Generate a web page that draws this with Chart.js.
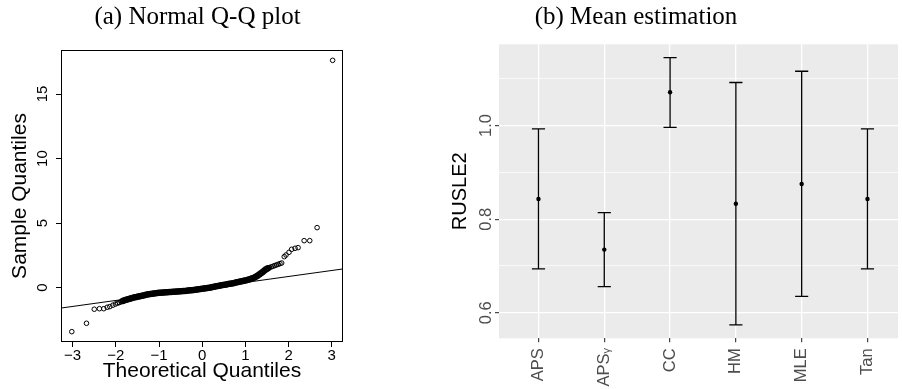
<!DOCTYPE html>
<html>
<head>
<meta charset="utf-8">
<script src="https://cdn.jsdelivr.net/npm/chart.js@4.4.1/dist/chart.umd.min.js"></script>
<style>
  html, body { margin: 0; padding: 0; background: #fff; }
  body { width: 902px; height: 389px; position: relative; overflow: hidden; }
  #qq { position: absolute; left: 0; top: 0; }
  #mean { position: absolute; left: 370px; top: 0; }
</style>
</head>
<body>
<canvas id="qq" width="395" height="389"></canvas>
<canvas id="mean" width="532" height="389"></canvas>
<script>
// (a) Q-Q plot (theoretical, sample)
const qqTheo = [
  -3.02, -2.68, -2.50, -2.38, -2.28, -2.20, -2.14, -2.07, -2.01,
  -1.96, -1.92, -1.88, -1.84, -1.80, -1.76, -1.72, -1.68, -1.64, -1.60,
  -1.56, -1.52, -1.48, -1.44, -1.40, -1.36, -1.32, -1.28, -1.24, -1.20,
  -1.16, -1.12, -1.08, -1.04, -1.00, -0.96, -0.92, -0.88, -0.84, -0.80,
  -0.76, -0.72, -0.68, -0.64, -0.60, -0.56, -0.52, -0.48, -0.44, -0.40,
  -0.36, -0.32, -0.28, -0.24, -0.20, -0.16, -0.12, -0.08, -0.04, 0.00,
  0.04, 0.08, 0.12, 0.16, 0.20, 0.24, 0.28, 0.32, 0.36, 0.40,
  0.44, 0.48, 0.52, 0.56, 0.60, 0.64, 0.68, 0.72, 0.76, 0.80,
  0.84, 0.88, 0.92, 0.96, 1.00, 1.04, 1.08, 1.12, 1.16, 1.20,
  1.24, 1.28, 1.32, 1.36, 1.40, 1.44, 1.48, 1.52, 1.56, 1.60,
  1.64, 1.68, 1.72, 1.76, 1.80, 1.84,
  1.90, 1.94, 2.01, 2.07, 2.15, 2.22, 2.36, 2.49, 2.66, 3.02
];
const qqSample = [
  -3.41, -2.76, -1.67, -1.63, -1.63, -1.52, -1.47, -1.36, -1.27,
  -1.20, -1.15, -1.10, -1.04, -0.98, -0.93, -0.89, -0.85, -0.82, -0.78,
  -0.75, -0.72, -0.69, -0.66, -0.63, -0.60, -0.57, -0.54, -0.52, -0.50,
  -0.48, -0.46, -0.44, -0.42, -0.40, -0.39, -0.38, -0.37, -0.36, -0.35,
  -0.34, -0.33, -0.32, -0.31, -0.30, -0.29, -0.28, -0.27, -0.26, -0.25,
  -0.24, -0.23, -0.21, -0.20, -0.18, -0.16, -0.14, -0.12, -0.10, -0.08,
  -0.06, -0.04, -0.02, 0.00, 0.02, 0.05, 0.07, 0.10, 0.13, 0.15,
  0.18, 0.20, 0.23, 0.25, 0.28, 0.30, 0.32, 0.35, 0.38, 0.41,
  0.44, 0.47, 0.50, 0.53, 0.56, 0.60, 0.64, 0.68, 0.72, 0.77,
  0.84, 0.92, 1.01, 1.11, 1.22, 1.32, 1.42, 1.50, 1.56, 1.61,
  1.66, 1.71, 1.76, 1.81, 1.86, 1.91,
  2.40, 2.53, 2.74, 2.97, 3.05, 3.10, 3.64, 3.64, 4.65, 17.61
];
// reference line ends (spans the whole plot)
const qqLineX = [-3.27, 3.26];
const qqLineY = [-1.58, 1.45];
const qqTicksX = [-3, -2, -1, 0, 1, 2, 3];
const qqTicksY = [0, 5, 10, 15];

// (b) mean estimation with intervals
const methods = ['APS', 'APSᵧ', 'CC', 'HM', 'MLE', 'Tan'];
const meanEst = [0.843, 0.735, 1.071, 0.833, 0.875, 0.843];
const lowerCI = [0.694, 0.656, 0.996, 0.574, 0.635, 0.694];
const upperCI = [0.993, 0.814, 1.145, 1.092, 1.116, 0.993];
const meanTicks = [0.6, 0.7, 0.8, 0.9, 1.0, 1.1];

Chart.defaults.font.family = "'Liberation Sans', Arial, sans-serif";
Chart.defaults.color = '#000';

const titleFont = { family: "'Liberation Serif', 'Times New Roman', serif", size: 25, weight: 'normal' };

// box round the Q-Q plot, like base R
const boxPlugin = {
  id: 'box',
  afterDraw(chart) {
    const { ctx, chartArea: a } = chart;
    ctx.save();
    ctx.strokeStyle = '#000';
    ctx.lineWidth = 1;
    ctx.strokeRect(a.left + 0.5, a.top + 0.5, a.right - a.left - 1, a.bottom - a.top - 1);
    ctx.restore();
  }
};

// where the sample is dense the open circles pile up into a solid band
const denseBand = c => (c.raw && c.raw.x > -1.86 && c.raw.x < 1.56) ? 1.9 : 1;

new Chart(document.getElementById('qq'), {
  type: 'scatter',
  data: {
    datasets: [
      {
        data: qqTheo.map((x, i) => ({ x: x, y: qqSample[i] })),
        pointRadius: 2.3,
        borderWidth: denseBand,
        borderColor: '#000',
        backgroundColor: 'rgba(0,0,0,0)'
      },
      {
        type: 'line',
        data: qqLineX.map((x, i) => ({ x: x, y: qqLineY[i] })),
        borderColor: '#000',
        borderWidth: 1,
        pointRadius: 0,
        fill: false
      }
    ]
  },
  options: {
    responsive: false,
    animation: false,
    events: [],
    layout: { padding: 0 },
    plugins: {
      legend: { display: false },
      tooltip: { enabled: false },
      title: {
        display: true, text: '(a) Normal Q-Q plot', font: titleFont, color: '#000',
        padding: { top: 2, bottom: 18 }
      }
    },
    scales: {
      x: {
        type: 'linear', min: -3.27, max: 3.26,
        afterBuildTicks: s => { s.ticks = qqTicksX.map(v => ({ value: v })); },
        afterFit: s => { s.height = 47; },
        ticks: {
          font: { size: 15 }, color: '#000', padding: 0, autoSkip: false, maxRotation: 0,
          callback: v => (v < 0 ? '\u2212' : '') + Math.abs(v)
        },
        grid: { drawOnChartArea: false, tickLength: 5, tickColor: '#000', tickWidth: 1 },
        border: { display: false },
        title: { display: true, text: 'Theoretical Quantiles', font: { size: 21 }, color: '#000', padding: { top: 0, bottom: 5 } }
      },
      y: {
        type: 'linear', min: -4.21, max: 18.41,
        afterBuildTicks: s => { s.ticks = qqTicksY.map(v => ({ value: v })); },
        afterFit: s => { s.width = 61; },
        ticks: { font: { size: 15 }, color: '#000', minRotation: 90, maxRotation: 90, crossAlign: 'center', padding: 4.5, autoSkip: false },
        grid: { drawOnChartArea: false, tickLength: 5, tickColor: '#000', tickWidth: 1 },
        border: { display: false },
        title: { display: true, text: 'Sample Quantiles', font: { size: 21 }, color: '#000', padding: { top: 8, bottom: 0 } }
      },
      // empty right margin so the title centres on the whole subfigure
      yr: {
        type: 'linear', position: 'right', display: true, min: 0, max: 1,
        afterFit: s => { s.width = 52; },
        ticks: { display: false }, grid: { display: false }, border: { display: false }
      }
    }
  },
  plugins: [boxPlugin]
});

const isMajor = v => Math.round(v * 10) % 2 === 0;

// grey ggplot panel
const panelBg = {
  id: 'panelBg',
  beforeDraw(chart) {
    const { ctx, chartArea: a } = chart;
    ctx.save();
    ctx.fillStyle = '#EBEBEB';
    ctx.fillRect(a.left, a.top, a.right - a.left, a.bottom - a.top);
    ctx.restore();
  }
};

// whiskers with caps
const errorBars = {
  id: 'errorBars',
  beforeDatasetsDraw(chart) {
    const { ctx, scales: { x, y } } = chart;
    ctx.save();
    ctx.strokeStyle = '#000';
    ctx.lineWidth = 1.3;
    methods.forEach((m, i) => {
      const cx = x.getPixelForValue(i + 1);
      const w = x.getPixelForValue(i + 1.1) - cx;
      const yl = y.getPixelForValue(lowerCI[i]);
      const yu = y.getPixelForValue(upperCI[i]);
      ctx.beginPath();
      ctx.moveTo(cx, yu); ctx.lineTo(cx, yl);
      ctx.moveTo(cx - w, yu); ctx.lineTo(cx + w, yu);
      ctx.moveTo(cx - w, yl); ctx.lineTo(cx + w, yl);
      ctx.stroke();
    });
    ctx.restore();
  }
};

new Chart(document.getElementById('mean'), {
  type: 'scatter',
  data: {
    datasets: [{
      data: meanEst.map((v, i) => ({ x: i + 1, y: v })),
      pointRadius: 2.2,
      borderWidth: 0,
      backgroundColor: '#000'
    }]
  },
  options: {
    responsive: false,
    animation: false,
    events: [],
    layout: { padding: 0 },
    plugins: {
      legend: { display: false },
      tooltip: { enabled: false },
      title: {
        display: true, text: '(b) Mean estimation', font: titleFont, color: '#000',
        padding: { top: 2, bottom: 12.3 }
      }
    },
    scales: {
      x: {
        type: 'linear', min: 0.4, max: 6.464,
        afterBuildTicks: s => { s.ticks = methods.map((m, i) => ({ value: i + 1 })); },
        afterFit: s => { s.height = 50.7; },
        ticks: {
          autoSkip: false, minRotation: 90, maxRotation: 90, padding: 6,
          font: { size: 16.5 }, color: '#4D4D4D',
          callback: v => methods[v - 1]
        },
        grid: { color: '#FFFFFF', lineWidth: 1.3, tickLength: 4, tickColor: '#333333', tickWidth: 1.1 },
        border: { display: false }
      },
      y: {
        type: 'linear', min: 0.5455, max: 1.1736,
        afterBuildTicks: s => { s.ticks = meanTicks.map(v => ({ value: v })); },
        afterFit: s => { s.width = 129; },
        ticks: {
          autoSkip: false, minRotation: 90, maxRotation: 90, crossAlign: 'center', padding: -3,
          font: { size: 16.5 }, color: '#4D4D4D',
          callback: v => isMajor(v) ? v.toFixed(1) : ''
        },
        grid: {
          color: '#FFFFFF',
          lineWidth: c => isMajor(c.tick.value) ? 1.3 : 0.7,
          tickLength: 4,
          tickColor: c => isMajor(c.tick.value) ? '#333333' : 'rgba(0,0,0,0)',
          tickWidth: 1.1
        },
        border: { display: false },
        title: { display: true, text: 'RUSLE2', font: { size: 20 }, color: '#000', padding: { top: 78.7, bottom: 0 } }
      }
    }
  },
  plugins: [panelBg, errorBars]
});
</script>
</body>
</html>
